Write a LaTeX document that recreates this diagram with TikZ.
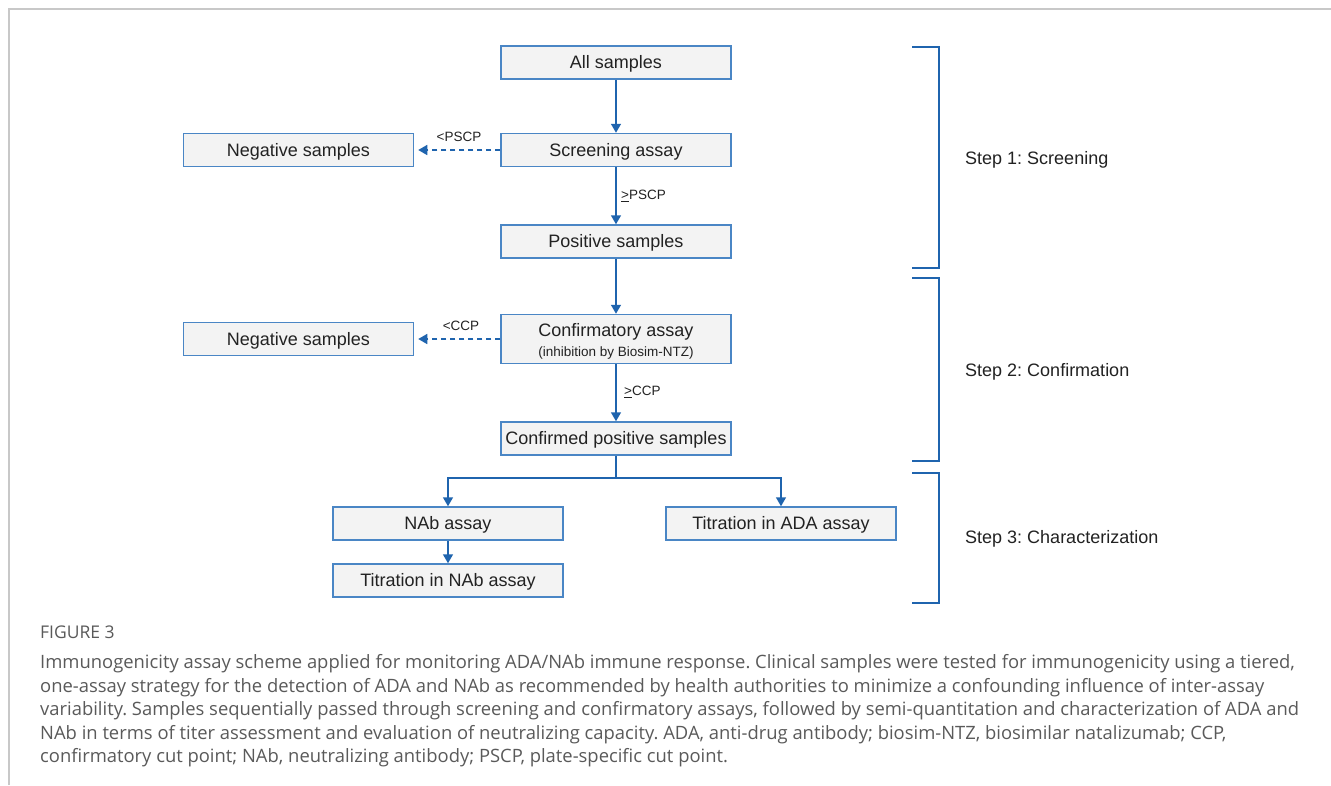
\documentclass[tikz,border=0pt]{standalone}
\usepackage{fontspec}
\setmainfont{Liberation Sans}
\newfontfamily\capfont{Open Sans}
\usetikzlibrary{arrows.meta}
\definecolor{boxblue}{HTML}{4A86C5}
\definecolor{arrblue}{HTML}{1F64AE}
\definecolor{boxfill}{HTML}{F3F3F3}
\definecolor{txt}{HTML}{222222}
\definecolor{capgray}{HTML}{5A5A5A}
\definecolor{framegray}{HTML}{C8C8C8}
\begin{document}
\frenchspacing
\begin{tikzpicture}[x=1pt,y=-1pt,
 box/.style={draw=boxblue, fill=boxfill, line width=1.5pt, minimum width=230pt, minimum height=33pt, inner sep=0pt, text=txt, font=\fontsize{18}{20}\selectfont, text height=12.9pt, text depth=0pt},
 flow/.style={draw=arrblue, line width=1.5pt, -{Triangle[width=10pt,length=9pt]}},
 dflow/.style={flow, dash pattern=on 5pt off 4pt, shorten >=4pt},
 lbl/.style={text=txt, font=\fontsize{13.5}{16}\selectfont, inner sep=0pt},
 steplbl/.style={text=txt, font=\fontsize{18}{21}\selectfont, inner sep=0pt, anchor=west, text height=12.9pt, text depth=0pt},
 brk/.style={draw=arrblue, line width=1.5pt},
 capline/.style={text=capgray, font=\capfont\fontsize{18.4}{20}\selectfont, inner sep=0pt, anchor=base west}]
\useasboundingbox (0,0) rectangle (1331,785);
\fill[white] (0,0) rectangle (1331,785);
\draw[framegray, line width=1.5pt] (9,785) -- (9,9) -- (1331,9);

\node[box] (all) at (616,62.5) {All samples};
\node[box] (scr) at (616,150) {Screening assay};
\node[box] (neg1) at (298.5,150) {Negative samples};
\node[box] (pos) at (616,241.5) {Positive samples};
\node[box, minimum height=49pt] (conf) at (616,339) {};
\node[text=txt, font=\fontsize{18}{20}\selectfont, inner sep=0pt, text height=12.9pt, text depth=0pt] (conft) at (616,330) {Confirmatory assay};
\node[lbl] (confs) at (616,353) {(inhibition by Biosim-NTZ)};
\node[box] (neg2) at (298.5,339) {Negative samples};
\node[box] (cpos) at (616,438.5) {Confirmed positive samples};
\node[box] (nab) at (448,523.5) {NAb assay};
\node[box] (tada) at (781,523.5) {Titration in ADA assay};
\node[box] (tnab) at (448,580.5) {Titration in NAb assay};

\draw[flow] (all) -- (scr);
\draw[flow] (scr) -- (pos);
\draw[flow] (pos) -- (conf);
\draw[flow] (conf) -- (cpos);
\draw[dflow] (scr) -- (neg1);
\draw[dflow] (conf) -- (neg2);
\coordinate (br) at (616,478);
\draw[arrblue, line width=1.5pt] (cpos.south) -- (br);
\draw[flow] (br) -| (nab.north);
\draw[flow] (br) -| (tada.north);
\draw[flow] (nab) -- (tnab);

\node[lbl] (l1) at (459,137) {<PSCP};
\node[lbl, anchor=west] (l2) at (621,196) {\underline{>}PSCP};
\node[lbl] (l3) at (461,326) {<CCP};
\node[lbl, anchor=west] (l4) at (624,392) {\underline{>}CCP};

\draw[brk] (912,47) -- (939,47) -- (939,268) -- (912,268);
\draw[brk] (912,278) -- (939,278) -- (939,461) -- (912,461);
\draw[brk] (912,473) -- (939,473) -- (939,603) -- (912,603);
\node[steplbl] (s1) at (965,158) {Step 1: Screening};
\node[steplbl] (s2) at (965,370) {Step 2: Confirmation};
\node[steplbl] (s3) at (965,537) {Step 3: Characterization};

\node[text=capgray, font=\capfont\fontsize{17.5}{18}\selectfont, inner sep=0pt, anchor=base west] (fig) at (40,638.5) {FIGURE 3};
\node[capline] (c1) at (40,668.5) {Immunogenicity assay scheme applied for monitoring ADA/NAb immune response. Clinical samples were tested for immunogenicity using a tiered,};
\node[capline] (c2) at (40,692) {one-assay strategy for the detection of ADA and NAb as recommended by health authorities to minimize a confounding influence of inter-assay};
\node[capline] (c3) at (40,715.5) {variability. Samples sequentially passed through screening and confirmatory assays, followed by semi-quantitation and characterization of ADA and};
\node[capline] (c4) at (40,739) {NAb in terms of titer assessment and evaluation of neutralizing capacity. ADA, anti-drug antibody; biosim-NTZ, biosimilar natalizumab; CCP,};
\node[capline] (c5) at (40,762.5) {confirmatory cut point; NAb, neutralizing antibody; PSCP, plate-specific cut point.};
\end{tikzpicture}
\end{document}
